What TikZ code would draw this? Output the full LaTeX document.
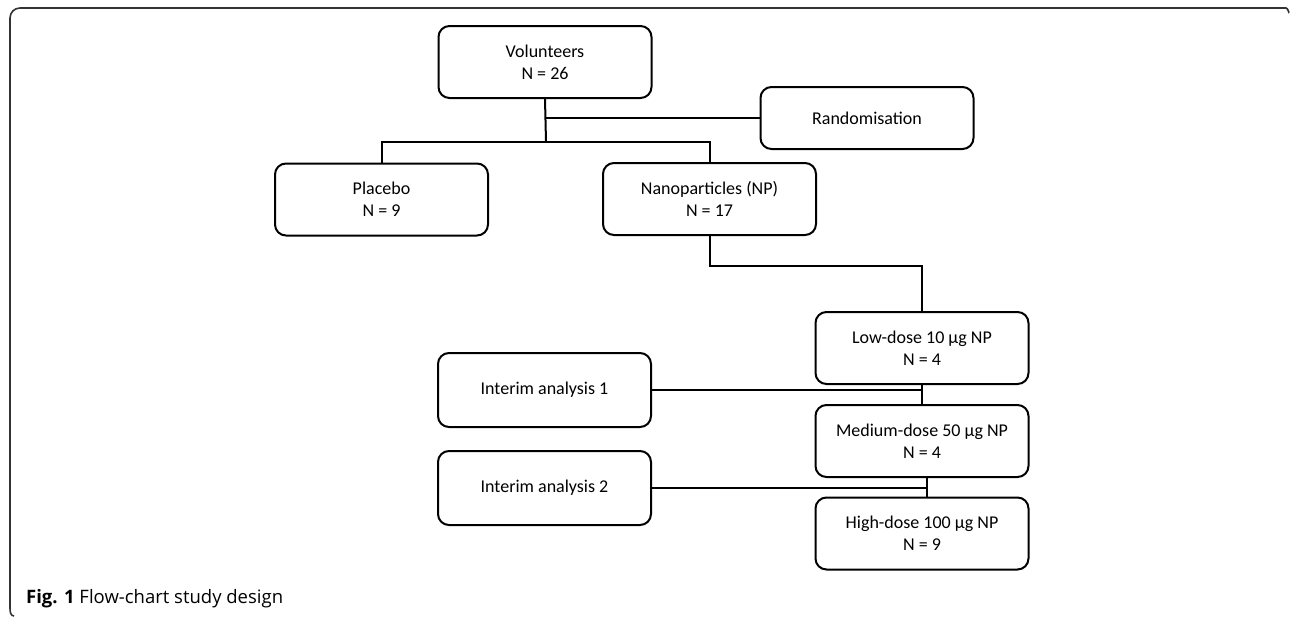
\documentclass[tikz,border=0pt]{standalone}
\usepackage{fontspec}
\setmainfont{Carlito}
\newfontfamily\capfont{Open Sans}
\begin{document}
\begin{tikzpicture}[x=1pt,y=-1pt,
  box/.style={draw=black, line width=2pt, rounded corners=11pt, minimum width=213pt, minimum height=72pt, align=center, inner sep=0pt, font=\fontsize{18}{22}\selectfont},
  conn/.style={draw=black, line width=2pt},
  frame/.style={draw=black!80, line width=1.6pt}]
\useasboundingbox (0,0) rectangle (1290,616);
% outer frame
\draw[frame] (1289,12) to[out=-90,in=0] (1286,8) -- (20,8) to[out=180,in=90] (10,18) -- (10,608) to[out=-90,in=180] (14,616);
% nodes
\node[box] (V) at (545,62) {Volunteers\\N = 26};
\node[box, minimum height=62pt] (R) at (867,118) {Randomisation};
\node[box] (P) at (381.5,199.5) {Placebo\\N = 9};
\node[box] (N) at (709.5,199) {Nanoparticles (NP)\\N = 17};
\node[box] (L) at (922,348) {Low-dose 10 µg NP\\N = 4};
\node[box] (M) at (922,441) {Medium-dose 50 µg NP\\N = 4};
\node[box] (H) at (922,533.5) {High-dose 100 µg NP\\N = 9};
\node[box, minimum height=74pt] (I1) at (544.5,390) {Interim analysis 1};
\node[box, minimum height=74pt] (I2) at (544.5,488) {Interim analysis 2};
% connectors
\coordinate (b) at (546,142);
\coordinate (nb) at (709.5,266);
\draw[conn] (V.south) -- (b);
\draw[conn] (V.south |- R.west) -- (R.west);
\draw[conn] (P.north) -- (P.north |- b) -- (N.north |- b) -- (N.north);
\draw[conn] (N.south) -- (nb) -| (L.north);
\draw[conn] (L.south) -- (M.north);
\draw[conn] (I1.east) -- (I1.east -| L.south);
\draw[conn] ([xshift=5pt]M.south) -- ([xshift=5pt]H.north);
\draw[conn] (I2.east) -- ([xshift=5pt]I2.east -| H.north);
% caption
\node[anchor=base west, inner sep=0pt, font=\capfont\fontsize{18.5}{22}\selectfont] (cap) at (26,603) {\textbf{Fig. 1} Flow-chart study design};
\end{tikzpicture}
\end{document}
